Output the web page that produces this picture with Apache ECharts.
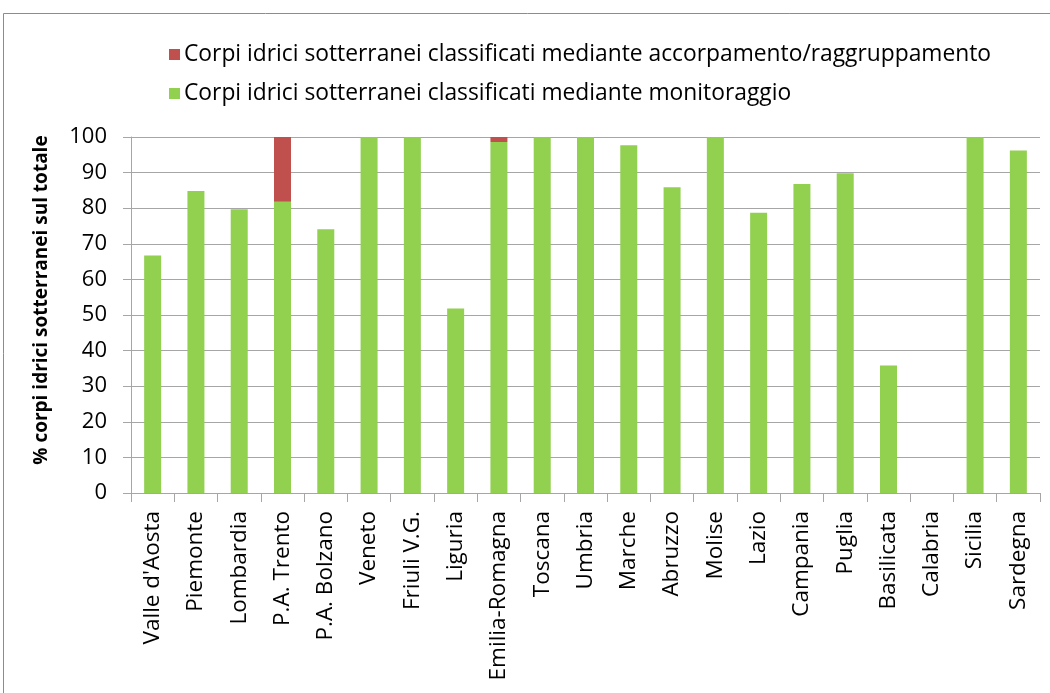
<!DOCTYPE html>
<html>
<head>
<meta charset="utf-8">
<script src="https://cdn.jsdelivr.net/npm/echarts@6/dist/echarts.min.js"></script>
<style>
html,body{margin:0;padding:0;background:#fff;}
#chart{width:1050px;height:693px;}
</style>
</head>
<body>
<div id="chart"></div>
<script>
const categories = ["Valle d'Aosta","Piemonte","Lombardia","P.A. Trento","P.A. Bolzano","Veneto","Friuli V.G.","Liguria","Emilia-Romagna","Toscana","Umbria","Marche","Abruzzo","Molise","Lazio","Campania","Puglia","Basilicata","Calabria","Sicilia","Sardegna"];
const monitoraggio = [66.7,84.8,79.7,81.8,74.1,100,100,51.8,98.6,100,100,97.7,85.9,100,78.7,86.8,89.8,35.8,0,100,96.2];
const accorpamento = [0,0,0,18.2,0,0,0,0,1.4,0,0,0,0,0,0,0,0,0,0,0,0];
const nameAccorp = "Corpi idrici sotterranei classificati mediante accorpamento/raggruppamento";
const nameMonit = "Corpi idrici sotterranei classificati mediante monitoraggio";
const yTitle = "% corpi idrici sotterranei sul totale";

const chart = echarts.init(document.getElementById('chart'));
const gridColor = '#A6A6A6';
chart.setOption({
  animation: false,
  textStyle: {fontFamily: 'Open Sans'},
  graphic: [{
    type: 'rect', shape: {x: 3.5, y: 13.5, width: 1100, height: 800},
    style: {fill: 'none', stroke: '#8C8C8C', lineWidth: 1}, silent: true
  }, {
    type: 'text', x: 42, y: 300, rotation: Math.PI / 2,
    style: {text: yTitle, fontSize: 19, fontWeight: 'bold', fill: '#000',
            fontFamily: 'Open Sans', align: 'center', verticalAlign: 'middle'},
    silent: true
  }],
  legend: {
    orient: 'vertical', left: 164, top: 38,
    itemWidth: 11, itemHeight: 11, itemGap: 16,
    data: [nameAccorp, nameMonit],
    textStyle: {fontSize: 22.8, color: '#000', fontFamily: 'Open Sans', padding: [0,0,0,-1]},
    icon: 'rect'
  },
  grid: {left: 131, right: 10, top: 137, bottom: 200, containLabel: false},
  xAxis: {
    type: 'category', data: categories,
    axisLine: {lineStyle: {color: gridColor}},
    axisTick: {show: true, length: 9, lineStyle: {color: gridColor}},
    axisLabel: {rotate: 90, margin: 18, fontSize: 22.5, color: '#000', interval: 0}
  },
  yAxis: {
    type: 'value', min: 0, max: 100, interval: 10,
    axisLine: {show: true, lineStyle: {color: gridColor}},
    axisTick: {show: true, length: 8, lineStyle: {color: gridColor}},
    axisLabel: {margin: 24, fontSize: 22, color: '#000'},
    splitLine: {lineStyle: {color: gridColor, width: 1}}
  },
  series: [
    {name: nameMonit, type: 'bar', stack: 'tot', data: monitoraggio, barWidth: 17,
     itemStyle: {color: '#92D050'}},
    {name: nameAccorp, type: 'bar', stack: 'tot', data: accorpamento, barWidth: 17,
     itemStyle: {color: '#C0504D'}}
  ]
});
</script>
</body>
</html>
